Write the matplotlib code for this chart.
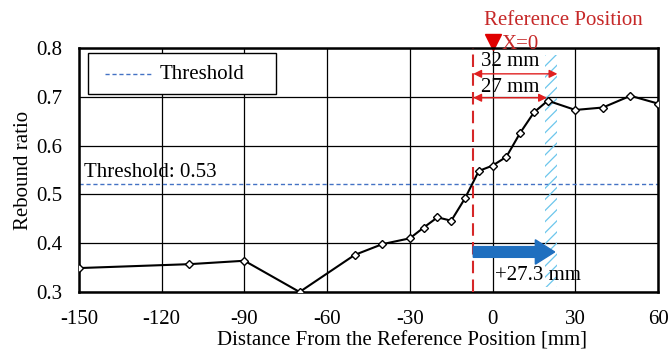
import matplotlib
matplotlib.use("Agg")
import matplotlib.pyplot as plt
from matplotlib.patches import Rectangle, FancyArrow
from matplotlib.lines import Line2D

plt.rcParams['font.family'] = ['Liberation Serif', 'DejaVu Serif']
plt.rcParams['hatch.linewidth'] = 0.9

x = [-150, -110, -90, -70, -50, -40, -30, -25, -20, -15, -10, -5, 0, 5, 10, 15, 20, 30, 40, 50, 60]
y = [0.349, 0.357, 0.364, 0.300, 0.376, 0.398, 0.410, 0.432, 0.453, 0.446, 0.492, 0.548, 0.559,
     0.577, 0.626, 0.668, 0.692, 0.673, 0.678, 0.702, 0.686]
threshold = 0.522
ref_line_x = -7
edge_x = 19.0
xticks = [-150, -120, -90, -60, -30, 0, 30, 60]
yticks = [0.3, 0.4, 0.5, 0.6, 0.7, 0.8]

FS = 15

fig = plt.figure(figsize=(6.71, 3.58), dpi=100)
ax = fig.add_axes([0.1177, 0.1844, 0.863, 0.6816])
ax.set_xlim(-150, 60)
ax.set_ylim(0.3, 0.8)
ax.set_xticks(xticks)
ax.set_xticklabels([str(t) for t in xticks])
ax.set_yticks(yticks)
ax.set_yticklabels([f"{t:.1f}" for t in yticks])
ax.grid(True, color='black', linewidth=0.9)
ax.set_axisbelow(True)
for s in ax.spines.values():
    s.set_linewidth(1.8)
ax.tick_params(axis='x', length=0, labelsize=FS, pad=13)
ax.tick_params(axis='y', length=0, labelsize=FS, pad=12)

ax.axhline(threshold, color='#4472c4', linestyle=(0, (3, 2)), linewidth=1.0, label='Threshold')
ax.plot(x, y, color='black', linewidth=1.5, marker='D', markersize=4.5,
        markerfacecolor='white', markeredgecolor='black', markeredgewidth=1.0, zorder=5)

# red reference dashed line
ax.plot([ref_line_x, ref_line_x], [0.3, 0.8], color='#d62728', linestyle=(0, (6, 3)), linewidth=1.5, zorder=4)

# cyan hatched band
ax.add_patch(Rectangle((edge_x, 0.31), 4.5, 0.475, facecolor='none', edgecolor='#6cc6ec',
                       hatch='///', linewidth=0, zorder=3))

# dimension arrows
ax.annotate('', xy=(23.5, 0.747), xytext=(ref_line_x, 0.747),
            arrowprops=dict(arrowstyle='<|-|>', color='#e02020', lw=1.0, mutation_scale=12, shrinkA=0, shrinkB=0))
ax.annotate('', xy=(19.7, 0.698), xytext=(ref_line_x, 0.698),
            arrowprops=dict(arrowstyle='<|-|>', color='#e02020', lw=1.0, mutation_scale=12, shrinkA=0, shrinkB=0))
ax.text(6.5, 0.772, '32 mm', fontsize=FS, ha='center', va='center')
ax.text(6.5, 0.720, '27 mm', fontsize=FS, ha='center', va='center')

# blue arrow
ax.add_patch(FancyArrow(ref_line_x, 0.382, 29.5, 0, width=0.022, head_width=0.05,
                        head_length=7, length_includes_head=True, color='#1f6fbf', zorder=6))
ax.text(16.5, 0.333, '+27.3 mm', fontsize=FS, ha='center', va='center', zorder=7)

ax.text(-148, 0.545, 'Threshold: 0.53', fontsize=FS, ha='left', va='center')

# Reference position annotations
ax.text(25.5, 0.857, 'Reference Position', fontsize=FS, color='#c62828', ha='center', va='center', clip_on=False)
ax.plot([0], [0.812], marker='v', color='#e00000', markersize=11, clip_on=False, linestyle='none')
ax.text(3.2, 0.808, 'X=0', fontsize=FS, color='#c62828', ha='left', va='center', clip_on=False)

# legend box (drawn in axes coordinates)
ax.add_patch(Rectangle((0.0155, 0.811), 0.325, 0.169, transform=ax.transAxes, facecolor='white',
                       edgecolor='black', linewidth=1.0, zorder=8))
ax.add_line(Line2D([0.045, 0.128], [0.895, 0.895], transform=ax.transAxes, color='#4472c4',
                   linestyle=(0, (3, 2)), linewidth=1.0, zorder=9))
ax.text(0.140, 0.893, 'Threshold', transform=ax.transAxes, fontsize=FS, ha='left', va='center', zorder=9)

ax.set_xlabel('Distance From the Reference Position [mm]', fontsize=FS, va='top')
ax.xaxis.set_label_coords(0.558, -0.16)
ax.set_ylabel('Rebound ratio', fontsize=FS, labelpad=2)

fig.savefig('out.png', dpi=100)
